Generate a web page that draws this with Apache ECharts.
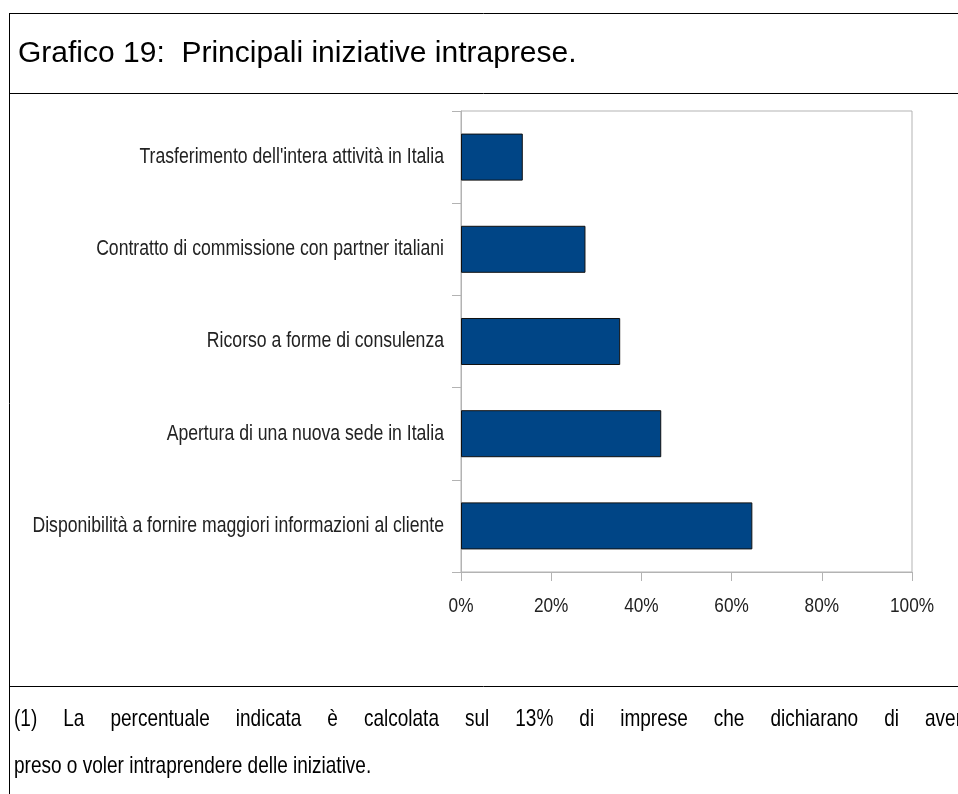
<!DOCTYPE html>
<html>
<head>
<meta charset="utf-8">
<script src="https://cdn.jsdelivr.net/npm/echarts@6/dist/echarts.min.js"></script>
<style>
  html, body { margin: 0; padding: 0; background: #fff; }
  #chart { width: 958px; height: 794px; }
</style>
</head>
<body>
<div id="chart"></div>
<script>
// Categories, listed top to bottom
const categories = [
  "Trasferimento dell'intera attività in Italia",
  'Contratto di commissione con partner italiani',
  'Ricorso a forme di consulenza',
  'Apertura di una nuova sede in Italia',
  'Disponibilità a fornire maggiori informazioni al cliente'
];
// Share of firms (%) for each initiative
const values = [13.7, 27.6, 35.3, 44.4, 64.6];
// Percentage axis ticks
const tickValues = [0, 20, 40, 60, 80, 100];
const tickLabels = ['0%', '20%', '40%', '60%', '80%', '100%'];

const titleText = 'Grafico 19:  Principali iniziative intraprese.';
const noteLine1 = '(1) La percentuale indicata è calcolata sul 13% di imprese che dichiarano di aver';
const noteLine2 = 'preso o voler intraprendere delle iniziative.';

const sansFamily = '"Liberation Sans", Arial, sans-serif';
const narrow = 0.82;          // horizontal squeeze used for the condensed texts
const labelSize = 21.5;
const tickSize = 21;
const noteSize = 23.2;

const measureCtx = document.createElement('canvas').getContext('2d');
function textWidth(text, size) {
  measureCtx.font = size + 'px ' + sansFamily;
  return measureCtx.measureText(text).width;
}

function condensedText(text, x, y, size, align, fill) {
  return {
    type: 'text', x: x, y: y, scaleX: narrow, silent: true,
    style: {
      text: text, font: size + 'px ' + sansFamily, fill: fill || '#222',
      textAlign: align || 'left', textVerticalAlign: 'middle'
    }
  };
}

// Justified line: words spread evenly between left and right edges
function justifyLine(text, left, right, y, size) {
  const words = text.split(' ');
  const widths = words.map(w => textWidth(w, size) * narrow);
  const total = widths.reduce((a, b) => a + b, 0);
  const gap = (right - left - total) / (words.length - 1);
  const out = [];
  let x = left;
  words.forEach((w, i) => {
    out.push(condensedText(w, x, y, size, 'left', '#000'));
    x += widths[i] + gap;
  });
  return out;
}

function frameLine(x1, y1, x2, y2) {
  return {
    type: 'line', silent: true,
    shape: { x1: x1, y1: y1, x2: x2, y2: y2 },
    style: { stroke: '#000', lineWidth: 1 }
  };
}

const chart = echarts.init(document.getElementById('chart'), null, { renderer: 'canvas' });

chart.setOption({
  animation: false,
  backgroundColor: '#fff',
  grid: {
    left: 461, right: 46, top: 111, bottom: 222,
    containLabel: false, outerBoundsMode: 'none',
    show: true, borderColor: '#b3b3b3', borderWidth: 1, backgroundColor: 'transparent'
  },
  xAxis: {
    type: 'value',
    min: tickValues[0], max: tickValues[tickValues.length - 1],
    interval: tickValues[1] - tickValues[0],
    axisLine: { show: true, lineStyle: { color: '#b3b3b3', width: 1 } },
    axisTick: { show: true, length: 9, lineStyle: { color: '#b3b3b3', width: 1 } },
    splitLine: { show: false },
    axisLabel: { show: false }
  },
  yAxis: {
    type: 'category',
    data: categories,
    inverse: true,
    axisLine: { show: true, lineStyle: { color: '#b3b3b3', width: 1 } },
    axisTick: { show: true, length: 9, alignWithLabel: false, lineStyle: { color: '#b3b3b3', width: 1 } },
    axisLabel: { show: false }
  },
  series: [{
    type: 'bar',
    data: values,
    barCategoryGap: '49%',
    itemStyle: { color: '#004586', borderColor: '#111', borderWidth: 1 }
  }]
});

// Axis labels in condensed lettering, placed through the axis scales
const yLabels = categories.map(c => {
  const py = chart.convertToPixel({ yAxisIndex: 0 }, c);
  const px = chart.convertToPixel({ xAxisIndex: 0 }, tickValues[0]);
  return condensedText(c, px - 17, py, labelSize, 'right');
});
const xLabels = tickValues.map((v, i) => {
  const px = chart.convertToPixel({ xAxisIndex: 0 }, v);
  return condensedText(tickLabels[i], px, 606, tickSize, 'center');
});

chart.setOption({
  graphic: [
    frameLine(9, 13.5, 958, 13.5),
    frameLine(9.5, 13, 9.5, 794),
    frameLine(9, 93.5, 958, 93.5),
    frameLine(9, 686.5, 958, 686.5),
    {
      type: 'text', x: 18, y: 54, silent: true,
      style: { text: titleText, font: '30px ' + sansFamily, fill: '#000', textVerticalAlign: 'middle' }
    },
    ...yLabels,
    ...xLabels,
    ...justifyLine(noteLine1, 14, 962, 720, noteSize),
    condensedText(noteLine2, 14, 767, noteSize, 'left', '#000')
  ]
});
</script>
</body>
</html>
